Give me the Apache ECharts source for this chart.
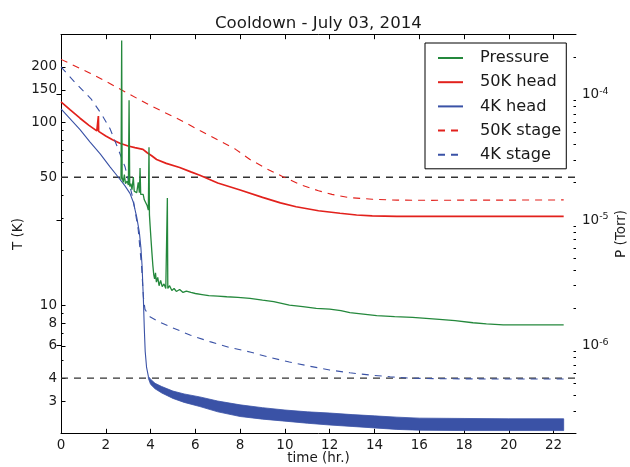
<!DOCTYPE html>
<html>
<head>
<meta charset="utf-8">
<script src="https://cdn.jsdelivr.net/npm/echarts@6/dist/echarts.min.js"></script>
<style>
  html, body { margin: 0; padding: 0; background: #fff; overflow: hidden; }
  #chart { width: 630px; height: 467px; }
</style>
</head>
<body>
<div id="chart"></div>
<script>
// ---- axis ranges ----
const timeRange = [0, 23];          // hours
const tempRange = [2, 300];         // K, log scale
const presRange = [2e-7, 3e-4];     // Torr, log scale

// ---- ticks ----
const timeTicks = [0, 2, 4, 6, 8, 10, 12, 14, 16, 18, 20, 22];
const tempTicks = [3, 4, 6, 8, 10, 50, 100, 150, 200];
const tempMinorTicks = [5, 7, 9, 20, 30, 40, 60, 70, 80, 90];
const presTickExps = [-6, -5, -4];
const presMinorTicks = [3e-7, 4e-7, 5e-7, 6e-7, 7e-7, 8e-7, 9e-7,
  2e-6, 3e-6, 4e-6, 5e-6, 6e-6, 7e-6, 8e-6, 9e-6,
  2e-5, 3e-5, 4e-5, 5e-5, 6e-5, 7e-5, 8e-5, 9e-5, 2e-4];

// ---- reference temperature levels (K) ----
const refLevels = [50, 4];

// ---- pressure gauge (Torr) ----
const pressureTime = [2.68, 2.71, 2.73, 2.78, 2.83, 2.88, 2.95, 3.01, 3.04, 3.07, 3.12, 3.17, 3.23, 3.27,
  3.33, 3.38, 3.45, 3.50, 3.53, 3.56, 3.62, 3.67, 3.72, 3.78, 3.85, 3.90, 3.93, 3.95, 3.98, 4.02, 4.06,
  4.10, 4.14, 4.18, 4.22, 4.26, 4.32, 4.38, 4.45, 4.52, 4.60, 4.68, 4.73, 4.75, 4.77, 4.85, 4.95, 5.05,
  5.15, 5.30, 5.45, 5.60, 5.80, 6.00, 6.30, 6.60, 7.00, 7.40, 7.90, 8.44, 9.00, 9.50, 10.20, 10.80,
  11.40, 12.00, 12.50, 12.90, 13.50, 14.10, 14.90, 15.70, 16.30, 16.90, 17.60, 18.40, 19.00, 19.75,
  20.50, 21.20, 22.45];
const pressureTorr = [2.1e-5, 2.7e-4, 2.2e-5, 2.0e-5, 2.3e-5, 1.95e-5, 2.05e-5, 1.9e-5, 9.0e-5, 1.85e-5,
  1.95e-5, 1.75e-5, 2.2e-5, 1.7e-5, 1.75e-5, 1.65e-5, 2.0e-5, 1.65e-5, 2.6e-5, 1.6e-5, 1.55e-5, 1.6e-5,
  1.45e-5, 1.4e-5, 1.3e-5, 1.2e-5, 3.8e-5, 1.1e-5, 9e-6, 7e-6, 5.5e-6, 4.4e-6, 3.7e-6, 3.4e-6, 3.8e-6,
  3.2e-6, 3.5e-6, 3.0e-6, 3.3e-6, 2.95e-6, 3.1e-6, 2.85e-6, 2.9e-6, 1.5e-5, 2.85e-6, 3.0e-6, 2.75e-6,
  2.85e-6, 2.7e-6, 2.8e-6, 2.65e-6, 2.72e-6, 2.65e-6, 2.6e-6, 2.55e-6, 2.5e-6, 2.48e-6, 2.45e-6, 2.42e-6,
  2.38e-6, 2.3e-6, 2.24e-6, 2.1e-6, 2.04e-6, 1.98e-6, 1.95e-6, 1.9e-6, 1.83e-6, 1.78e-6, 1.73e-6, 1.7e-6,
  1.68e-6, 1.65e-6, 1.62e-6, 1.58e-6, 1.52e-6, 1.49e-6, 1.46e-6, 1.46e-6, 1.46e-6, 1.46e-6];

// ---- 50K head (K) ----
const head50Time = [0, 0.4, 0.85, 1.25, 1.6, 1.66, 1.67, 1.68, 2.0, 2.3, 2.63, 3.0, 3.3, 3.66, 3.85, 4.05,
  4.27, 4.7, 5.3, 5.8, 6.2, 7.0, 8.0, 9.0, 9.8, 10.5, 11.5, 12.46, 13.2, 13.9, 15.0, 17.0, 19.0, 21.0, 22.45];
const head50Temp = [129, 117, 105, 96, 89.5, 89, 108, 89, 84, 80, 76.6, 74, 72.5, 71, 68, 65.5,
  62.5, 59.5, 56.5, 53.5, 51.3, 46.5, 42.6, 38.8, 36.2, 34.5, 32.8, 31.8, 31.1, 30.8, 30.6, 30.6, 30.6, 30.6, 30.6];

// ---- 4K head (K): cool-down curve, then noisy base band ----
const head4Time = [0, 0.85, 1.29, 1.75, 2.19, 2.56, 2.85, 3.08, 3.23, 3.38, 3.5, 3.57, 3.62, 3.68, 3.72,
  3.76, 3.82, 3.9];
const head4Temp = [118, 91, 78, 67, 57, 50, 45, 40.8, 36.5, 30.4, 25, 20.5, 16.5, 10.7, 7.5, 5.6, 4.6, 4.1];
const head4BandTime = [3.9, 4.0, 4.2, 4.5, 5.0, 5.5, 6.2, 7.0, 8.0, 9.0, 10.0, 11.0, 12.0, 13.0, 14.0,
  15.0, 16.0, 18.0, 20.0, 22.45];
const head4BandHigh = [4.1, 3.95, 3.75, 3.6, 3.4, 3.28, 3.16, 3.0, 2.86, 2.76, 2.68, 2.62, 2.58, 2.53,
  2.49, 2.45, 2.42, 2.41, 2.40, 2.40];
const head4BandLow = [4.0, 3.7, 3.5, 3.32, 3.1, 2.95, 2.8, 2.62, 2.47, 2.39, 2.33, 2.27, 2.22, 2.18,
  2.14, 2.10, 2.08, 2.07, 2.07, 2.07];

// ---- 50K stage (K) ----
const stage50Time = [0, 1.3, 2.2, 3.1, 4.0, 5.3, 6.2, 7.0, 7.8, 8.44, 9.2, 9.93, 10.7, 11.5, 12.1, 12.8,
  13.9, 15.0, 16.5, 18.0, 20.0, 22.45];
const stage50Temp = [220, 185, 162, 141, 123, 103, 90, 80, 71, 62.5, 55.5, 50.2, 45.5, 42.2, 40.3, 38.8,
  37.9, 37.5, 37.4, 37.5, 37.5, 37.6];

// ---- 4K stage (K) ----
const stage4Time = [0, 0.6, 1.34, 1.8, 2.19, 2.5, 2.86, 3.05, 3.23, 3.45, 3.6, 3.68, 3.75, 3.97, 4.4,
  4.87, 5.76, 6.65, 7.5, 8.44, 9.3, 10.2, 11.1, 12.0, 12.9, 13.8, 14.7, 15.6, 17.0, 19.0, 22.45];
const stage4Temp = [200, 166, 134, 111, 92, 74, 57, 46, 37.5, 25.8, 16.2, 11.1, 9.5, 8.65, 8.1,
  7.64, 6.88, 6.33, 5.9, 5.56, 5.2, 4.9, 4.65, 4.43, 4.28, 4.16, 4.07, 4.0, 3.97, 3.96, 3.96];

// ---- styling ----
const FONT = 'DejaVu Sans';
const GREEN = '#24883c';
const RED = '#e2211c';
const BLUE = '#3a52a6';
const INK = '#1a1a1a';
const DASH = [7, 6];

const lg = Math.log10;
const pairs = (ts, vs) => ts.map((t, i) => [t, lg(vs[i])]);

const chart = echarts.init(document.getElementById('chart'), null, { renderer: 'canvas' });

const tickLabel = { fontFamily: FONT, fontSize: 13.5, color: INK };
const nameStyle = { fontFamily: FONT, fontSize: 13.5, color: INK };

// The 4K head base band: one polygon spanning the high/low envelopes
function renderBand(params, api) {
  if (params.dataIndex !== 0) return null;
  const upper = head4BandTime.map((t, i) => api.coord([t, lg(head4BandHigh[i])]));
  const lower = head4BandTime.map((t, i) => api.coord([t, lg(head4BandLow[i])])).reverse();
  return {
    type: 'polygon',
    shape: { points: upper.concat(lower) },
    style: { fill: BLUE, stroke: BLUE, lineWidth: 0.8 }
  };
}

const option = {
  animation: false,
  backgroundColor: '#fff',
  textStyle: { fontFamily: FONT },
  title: {
    text: 'Cooldown - July 03, 2014',
    left: 215, top: 15, padding: 0,
    textStyle: { fontFamily: FONT, fontSize: 16.6, fontWeight: 'normal', color: INK }
  },
  legend: {
    data: ['Pressure', '50K head', '4K head', '50K stage', '4K stage'],
    orient: 'vertical',
    left: 425, top: 43,
    padding: [7, 5, 6, 12],
    itemWidth: 25, itemHeight: 12, itemGap: 8.2,
    itemStyle: { opacity: 0 },
    borderColor: '#000', borderWidth: 1, borderRadius: 0,
    backgroundColor: '#fff',
    textStyle: { fontFamily: FONT, fontSize: 16.2, color: INK, padding: [0, 0, 0, 12] }
  },
  grid: { left: 61, right: 54, top: 34.7, bottom: 33.7, containLabel: false, outerBoundsMode: 'none' },
  xAxis: [
    {
      type: 'value', position: 'bottom', min: timeRange[0], max: timeRange[1],
      name: 'time (hr.)', nameLocation: 'middle', nameGap: 18, nameMoveOverlap: false,
      nameTextStyle: nameStyle,
      axisLine: { show: true, lineStyle: { color: '#000', width: 1 } },
      axisTick: { show: true, inside: true, length: 4.5, customValues: timeTicks, lineStyle: { color: '#000' } },
      axisLabel: Object.assign({ margin: 5, customValues: timeTicks }, tickLabel),
      splitLine: { show: false }
    },
    {
      type: 'value', position: 'top', min: timeRange[0], max: timeRange[1],
      axisLine: { show: true, lineStyle: { color: '#000', width: 1 } },
      axisTick: { show: true, inside: true, length: 4.5, customValues: timeTicks, lineStyle: { color: '#000' } },
      axisLabel: { show: false },
      splitLine: { show: false }
    }
  ],
  yAxis: [
    {
      type: 'value', position: 'left', min: lg(tempRange[0]), max: lg(tempRange[1]),
      name: 'T (K)', nameLocation: 'middle', nameGap: 36, nameRotate: 90, nameMoveOverlap: false,
      nameTextStyle: nameStyle,
      axisLine: { show: true, lineStyle: { color: '#000', width: 1 } },
      axisTick: { show: true, inside: true, length: 4.5, customValues: tempTicks.map(lg), lineStyle: { color: '#000' } },
      axisLabel: Object.assign({
        margin: 4, customValues: tempTicks.map(lg),
        formatter: v => String(Math.round(Math.pow(10, v)))
      }, tickLabel),
      splitLine: { show: false }
    },
    {
      type: 'value', position: 'right', min: lg(presRange[0]), max: lg(presRange[1]),
      name: 'P (Torr)', nameLocation: 'middle', nameGap: 38, nameRotate: 90, nameMoveOverlap: false,
      nameTextStyle: nameStyle,
      axisLine: { show: true, lineStyle: { color: '#000', width: 1 } },
      axisTick: { show: true, inside: true, length: 4.5, customValues: presTickExps, lineStyle: { color: '#000' } },
      axisLabel: {
        margin: 6, customValues: presTickExps,
        formatter: v => '{b|10}{s|' + Math.round(v) + '}',
        rich: {
          b: { fontFamily: FONT, fontSize: 13.5, color: INK, lineHeight: 17 },
          s: { fontFamily: FONT, fontSize: 9.5, color: INK, lineHeight: 7, verticalAlign: 'top' }
        }
      },
      splitLine: { show: false }
    },
    {
      // minor ticks, temperature axis
      type: 'value', position: 'left', min: lg(tempRange[0]), max: lg(tempRange[1]),
      axisLine: { show: false },
      axisTick: { show: true, inside: true, length: 2.5, customValues: tempMinorTicks.map(lg), lineStyle: { color: '#000' } },
      axisLabel: { show: false },
      splitLine: { show: false }
    },
    {
      // minor ticks, pressure axis
      type: 'value', position: 'right', min: lg(presRange[0]), max: lg(presRange[1]),
      axisLine: { show: false },
      axisTick: { show: true, inside: true, length: 2.5, customValues: presMinorTicks.map(lg), lineStyle: { color: '#000' } },
      axisLabel: { show: false },
      splitLine: { show: false }
    }
  ],
  series: [
    ...refLevels.map(level => ({
      name: 'T = ' + level + ' K', type: 'line', xAxisIndex: 0, yAxisIndex: 0,
      data: [[timeRange[0], lg(level)], [timeRange[1], lg(level)]],
      symbol: 'none', silent: true, z: 1,
      lineStyle: { color: '#333', width: 1.3, type: DASH }
    })),
    {
      name: '50K head', type: 'line', yAxisIndex: 0, data: pairs(head50Time, head50Temp),
      symbol: 'none', z: 3, color: RED, lineStyle: { color: RED, width: 1.7 }
    },
    {
      name: '4K head', type: 'line', yAxisIndex: 0, data: pairs(head4Time, head4Temp),
      symbol: 'none', z: 3, color: BLUE, lineStyle: { color: BLUE, width: 1.1 }
    },
    {
      name: '4K head band', type: 'custom', yAxisIndex: 0, z: 3, silent: true,
      renderItem: renderBand,
      data: head4BandTime.map((t, i) => [t, lg(head4BandLow[i]), lg(head4BandHigh[i])]),
      encode: { x: 0, y: [1, 2] }
    },
    {
      name: '50K stage', type: 'line', yAxisIndex: 0, data: pairs(stage50Time, stage50Temp),
      symbol: 'none', z: 3, color: RED, lineStyle: { color: RED, width: 1.1, type: DASH }
    },
    {
      name: '4K stage', type: 'line', yAxisIndex: 0, data: pairs(stage4Time, stage4Temp),
      symbol: 'none', z: 3, color: BLUE, lineStyle: { color: BLUE, width: 1.1, type: DASH }
    },
    {
      name: 'Pressure', type: 'line', yAxisIndex: 1, data: pairs(pressureTime, pressureTorr),
      symbol: 'none', z: 4, color: GREEN, lineStyle: { color: GREEN, width: 1.3 }
    }
  ]
};

chart.setOption(option);
</script>
</body>
</html>
